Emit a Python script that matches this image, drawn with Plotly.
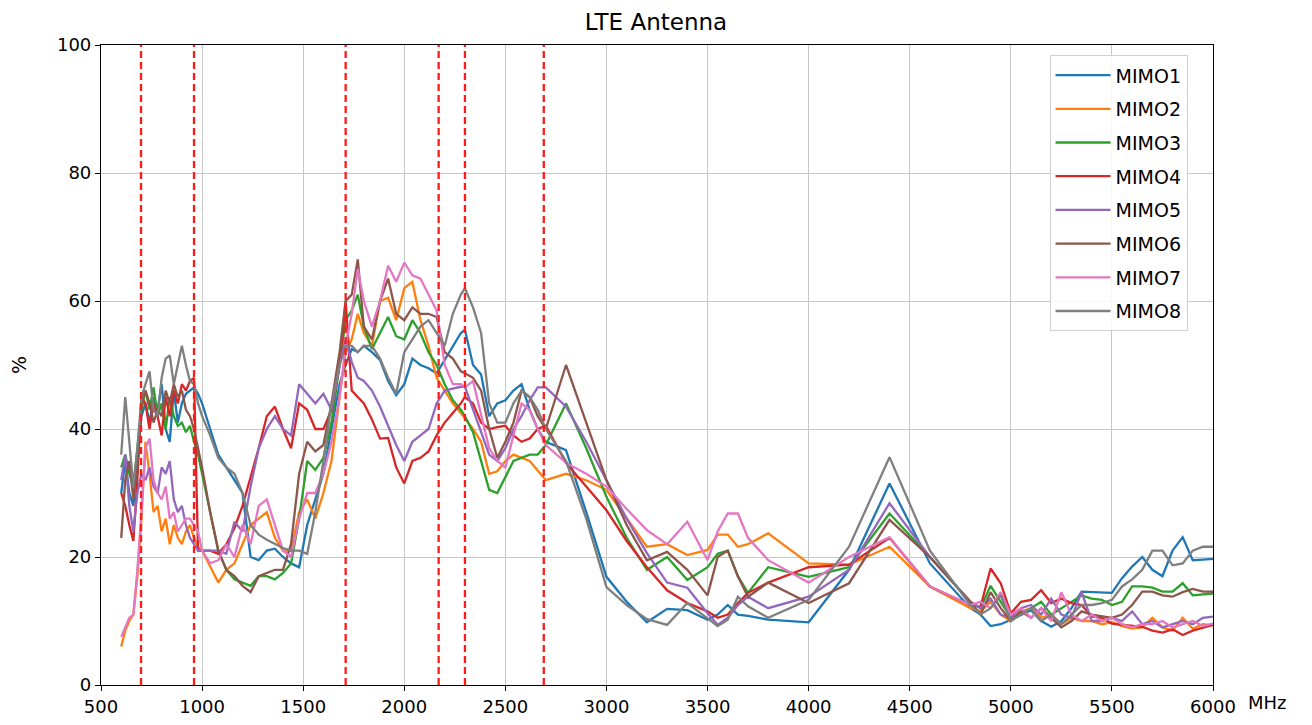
import plotly.graph_objects as go

FREQ = [600, 620, 640, 660, 680, 700, 720, 740, 760, 780, 800, 820, 840, 860, 880, 900, 920, 940, 960, 980, 1000,
        1040, 1080, 1120, 1160, 1200, 1240, 1280, 1320, 1360, 1400, 1440, 1480, 1520, 1560, 1600, 1640, 1680,
        1710, 1740, 1770, 1800, 1840, 1880, 1920, 1960, 2000, 2040, 2080, 2120, 2160, 2200, 2240, 2280, 2300,
        2340, 2380, 2420, 2460, 2500, 2540, 2580, 2620, 2660, 2700,
        2800, 2900, 3000, 3100, 3200, 3300, 3400, 3500, 3550, 3600, 3650, 3700, 3800, 4000, 4200, 4400, 4600,
        4800, 4850, 4900, 4950, 5000, 5050, 5100, 5150, 5200, 5250, 5300, 5350, 5400, 5450, 5500, 5550, 5600,
        5650, 5700, 5750, 5800, 5850, 5900, 5950, 6000]

MIMO1 = [30, 35, 30, 28, 36, 42, 44, 41, 45, 43, 47, 40, 38, 46, 41, 44, 45.5, 46, 46.5, 45.5, 44,
         40, 36, 34, 32, 30, 20, 19.5, 21, 21.3, 20, 19, 18.4, 25, 29, 33, 40, 47,
         50, 52.5, 52, 53, 52, 50.8, 47.5, 45.3, 47, 51, 50, 49.5, 48.7, 50.8, 53, 55, 55.5,
         50, 48.5, 42, 44, 44.5, 46, 47, 43, 40, 38,
         36.7, 27, 16.9, 13, 9.8, 11.9, 11.7, 10.2, 11, 12.5, 11, 10.8, 10.2, 9.8, 18, 31.5, 19,
         12, 11, 9.2, 9.5, 10.2, 11, 11.7, 10, 9.1, 10, 12, 14.6, 14.5, 14.4, 14.4, 16.7, 18.5,
         20, 18, 17, 21, 23.1, 19.5, 19.6, 19.7]
MIMO2 = [6, 8.5, 10, 11, 17, 26, 38, 33, 27, 28, 24, 26, 22, 25, 23, 22, 24, 25, 23, 21.5, 21,
         18.5, 16, 18, 19, 22, 25, 26, 27, 23, 21, 21, 27, 29, 26, 30, 35, 45,
         52, 54, 58, 55, 53, 60, 60.5, 57, 62, 63, 57, 53, 48, 46, 44, 42.5, 41.7,
         40, 38, 33, 33.4, 35, 36, 35.5, 35, 33.5, 32,
         33, 32, 30.5, 26, 21.6, 22, 20.3, 21.1, 23.5, 23.5, 21.6, 22, 23.7, 19, 18.8, 21.6, 15.4,
         12, 11.5, 13, 11, 10, 11.5, 12, 10.5, 11, 9.5, 10.5, 10, 10, 9.5, 9.8, 9.2, 8.8,
         9, 10.5, 9, 8.5, 10.5, 8.8, 9.5, 9.3]
MIMO3 = [34, 36, 33, 31, 37, 43, 46, 43, 46.5, 42, 44, 40, 45, 42, 40.5, 41, 39.5, 40.5, 38, 36, 33,
         27, 21, 18, 16.5, 16, 15.5, 17, 17, 16.5, 17.5, 19, 26, 35, 33.6, 35.5, 41, 50,
         57, 58.5, 61, 56, 52.5, 55, 57.5, 54.5, 54, 57, 55, 52, 50, 47, 44.5, 43, 42,
         39.5, 35, 30.5, 30, 32.5, 35, 35.5, 36, 36, 37.5,
         44, 37, 29.4, 23, 18, 20, 16.4, 18.4, 20.5, 21, 17, 14.4, 18.4, 16.9, 18.4, 26.8, 20,
         13, 12, 15.5, 13, 10.5, 11, 12, 13, 11, 12, 13, 14, 13.5, 13.3, 12.5, 13, 15.4,
         15.4, 15.2, 14.6, 14.6, 15.9, 14, 14.2, 14.3]
MIMO4 = [30, 28, 25, 22.5, 32, 45, 44, 40, 44, 42, 39, 45, 42, 46, 44, 47, 46, 47.5, 48, 21, 21,
         21, 20.5, 22, 24.5, 28, 32.5, 37, 42, 43.5, 40, 37, 44, 43, 40, 40, 43, 50,
         60, 46, 45, 44, 41.5, 38.5, 38.6, 34, 31.5, 35, 35.5, 36.5, 39, 41, 42.5, 44, 45,
         44, 41, 40, 40.3, 40.5, 39, 38, 38.5, 40, 40.5,
         34.7, 31, 27.3, 22.5, 18.4, 14.8, 12.8, 11.5, 10.5, 11, 12.8, 14.4, 16, 18.4, 18.8, 23, 15.4,
         12.5, 12.2, 18.2, 15.9, 11.2, 13, 13.3, 14.8, 12.8, 13.5, 12.8, 12.5, 10.7, 10.5, 9.6, 9.4, 9.2,
         9.1, 8.5, 8.2, 8.7, 7.8, 8.5, 9, 9.4]
MIMO5 = [32, 36, 28, 24, 30, 33, 32, 34, 31, 30, 34, 33, 35, 29, 27, 28, 25, 23, 22, 21, 21,
         21, 21, 20.5, 25.5, 24, 31, 37, 40, 42, 40, 39, 47, 45.5, 44, 45.5, 43, 50,
         54, 50.5, 48, 47.5, 46, 43.5, 40.5, 37.5, 35, 38, 39, 40, 44, 46, 46.3, 46.6, 46.6,
         43, 39.5, 36, 35, 37, 40, 42, 44.5, 46.5, 46.5,
         43.5, 38, 32, 26, 20.6, 16, 15.2, 11.2, 9.4, 10.5, 12.5, 13.8, 12, 13.8, 18, 28.4, 20,
         13, 12, 13.5, 11, 10.5, 12, 12.5, 11, 13.5, 11, 10.5, 14.5, 10, 10, 10.5, 10, 11.5,
         9.5, 10, 9, 9.5, 10, 9.5, 10.5, 10.7]
MIMO6 = [23, 32, 35, 29, 34, 44, 46, 44, 41, 43, 42, 46, 44, 47, 45, 46, 43, 42, 40, 37, 34,
         27, 21, 18, 17, 15.5, 14.5, 17, 17.5, 18, 18, 22, 33, 38, 36.5, 37.5, 44, 52,
         60, 61, 66.5, 56, 54, 60, 63.5, 58, 57, 59, 58, 58, 57.5, 52, 51, 49, 48.7,
         48, 46, 40, 35.5, 38, 41, 46, 45, 42, 40,
         50, 41, 32, 25, 19.5, 20.8, 18, 14, 20, 21, 17, 13.8, 16, 12.8, 15.9, 25.8, 20,
         13, 11, 14.5, 12, 10, 11.5, 10.5, 12, 10.5, 9, 10, 11.5, 11, 10.8, 10.5, 11, 12.5,
         14.6, 14.6, 14, 13.8, 14.5, 15, 14.6, 14.6]
MIMO7 = [7.5, 9, 10.5, 11, 18, 27, 37, 38.5, 32, 30, 29, 31, 26, 27, 24, 25, 26, 26, 25, 24, 21,
         19, 19.5, 22, 20, 25, 22, 28, 29, 25, 21, 20, 26, 30, 30, 33, 38, 45,
         53, 58, 65, 60, 56, 60, 65.5, 63, 66, 64, 63.5, 61, 58.5, 50, 47, 47, 46.5,
         47.5, 42, 37, 35, 34, 39, 44, 43, 40, 37.5,
         34.7, 33, 31, 27.5, 24.2, 22, 25.5, 19.5, 24, 26.8, 26.8, 23, 19.5, 16, 20, 23.1, 15.4,
         12.5, 13, 12, 14.5, 11, 12, 10.5, 12, 10, 14.5, 11, 10, 11, 10, 10.5, 9.5, 9,
         9.5, 9.5, 10, 9, 9.5, 10, 9.2, 9.6]
MIMO8 = [36, 45, 38, 31, 37, 45, 47, 49, 43, 42, 48, 51, 51.5, 47, 50, 53, 50, 47.5, 47, 44, 42,
         39, 35.5, 34, 33, 30, 25, 23.5, 22.7, 22, 21.4, 21, 21, 20.5, 27, 35, 44, 50,
         53, 53, 52, 53, 53, 51, 48, 45.5, 52, 54, 56, 57, 55, 53, 58, 61, 62,
         59, 55, 44, 41, 41, 44, 46, 45, 43, 40,
         35, 26, 15.3, 12.5, 10.3, 9.4, 12.8, 10.4, 9.2, 10.2, 13.8, 12.3, 10.5, 13.3, 21.6, 35.6, 21,
         12.5, 11, 12, 14, 10, 11, 12, 10, 11, 9.5, 11, 12.5, 12.5, 12.8, 13.3, 15.4, 16.5,
         18, 21, 21, 18.7, 19, 21, 21.6, 21.6]

SERIES_NAMES = ["MIMO1", "MIMO2", "MIMO3", "MIMO4", "MIMO5", "MIMO6", "MIMO7", "MIMO8"]
SERIES_VALUES = [MIMO1, MIMO2, MIMO3, MIMO4, MIMO5, MIMO6, MIMO7, MIMO8]
COLORS = ["#1f77b4", "#ff7f0e", "#2ca02c", "#d62728", "#9467bd", "#8c564b", "#e377c2", "#7f7f7f"]

BAND_EDGES = [698, 960, 1710, 2170, 2300, 2690]
X_TICKS = [500, 1000, 1500, 2000, 2500, 3000, 3500, 4000, 4500, 5000, 5500, 6000]
Y_TICKS = [0, 20, 40, 60, 80, 100]

FONT = "DejaVu Sans"

fig = go.Figure()
for name, vals, col in zip(SERIES_NAMES, SERIES_VALUES, COLORS):
    fig.add_trace(go.Scatter(x=FREQ, y=vals, mode="lines", name=name, legendgroup=name,
                             line=dict(color=col, width=2.3)))

for xv in BAND_EDGES:
    fig.add_shape(type="line", xref="x", yref="y", x0=xv, x1=xv, y0=0, y1=100,
                  line=dict(color="#ff1a1a", width=2.3, dash="7px,4px"), layer="above")

axis_common = dict(showline=True, linecolor="black", linewidth=1.2, mirror=True,
                   showgrid=True, gridcolor="#c8c8c8", gridwidth=1.4,
                   ticks="outside", ticklen=5, tickcolor="black", automargin=False,
                   tickfont=dict(family=FONT, size=18, color="black"), zeroline=False)

fig.update_layout(
    width=1296, height=709,
    margin=dict(l=93, r=91, t=37, b=32),
    paper_bgcolor="white", plot_bgcolor="white",
    title=dict(text="LTE Antenna", x=0.5, xanchor="center", y=0.98, yanchor="middle",
               font=dict(family=FONT, size=23, color="black")),
    xaxis=dict(range=[500, 6000], tickvals=X_TICKS, **axis_common),
    yaxis=dict(range=[0, 100], tickvals=Y_TICKS,
               title=dict(text="%", standoff=28, font=dict(family=FONT, size=19, color="black")),
               **axis_common),
    legend=dict(x=0.853, y=0.984, xanchor="left", yanchor="top", traceorder="grouped",
                bgcolor="rgba(255,255,255,0.85)", bordercolor="#d0d0d0", borderwidth=1,
                itemwidth=55,
                font=dict(family=FONT, size=19, color="black"), tracegroupgap=6),
    showlegend=True,
)

fig.add_annotation(text="MHz", xref="paper", yref="paper", x=1.03, y=0, xanchor="left",
                   yanchor="top", yshift=-5, showarrow=False,
                   font=dict(family=FONT, size=18, color="black"))

fig.write_html("out.html")
